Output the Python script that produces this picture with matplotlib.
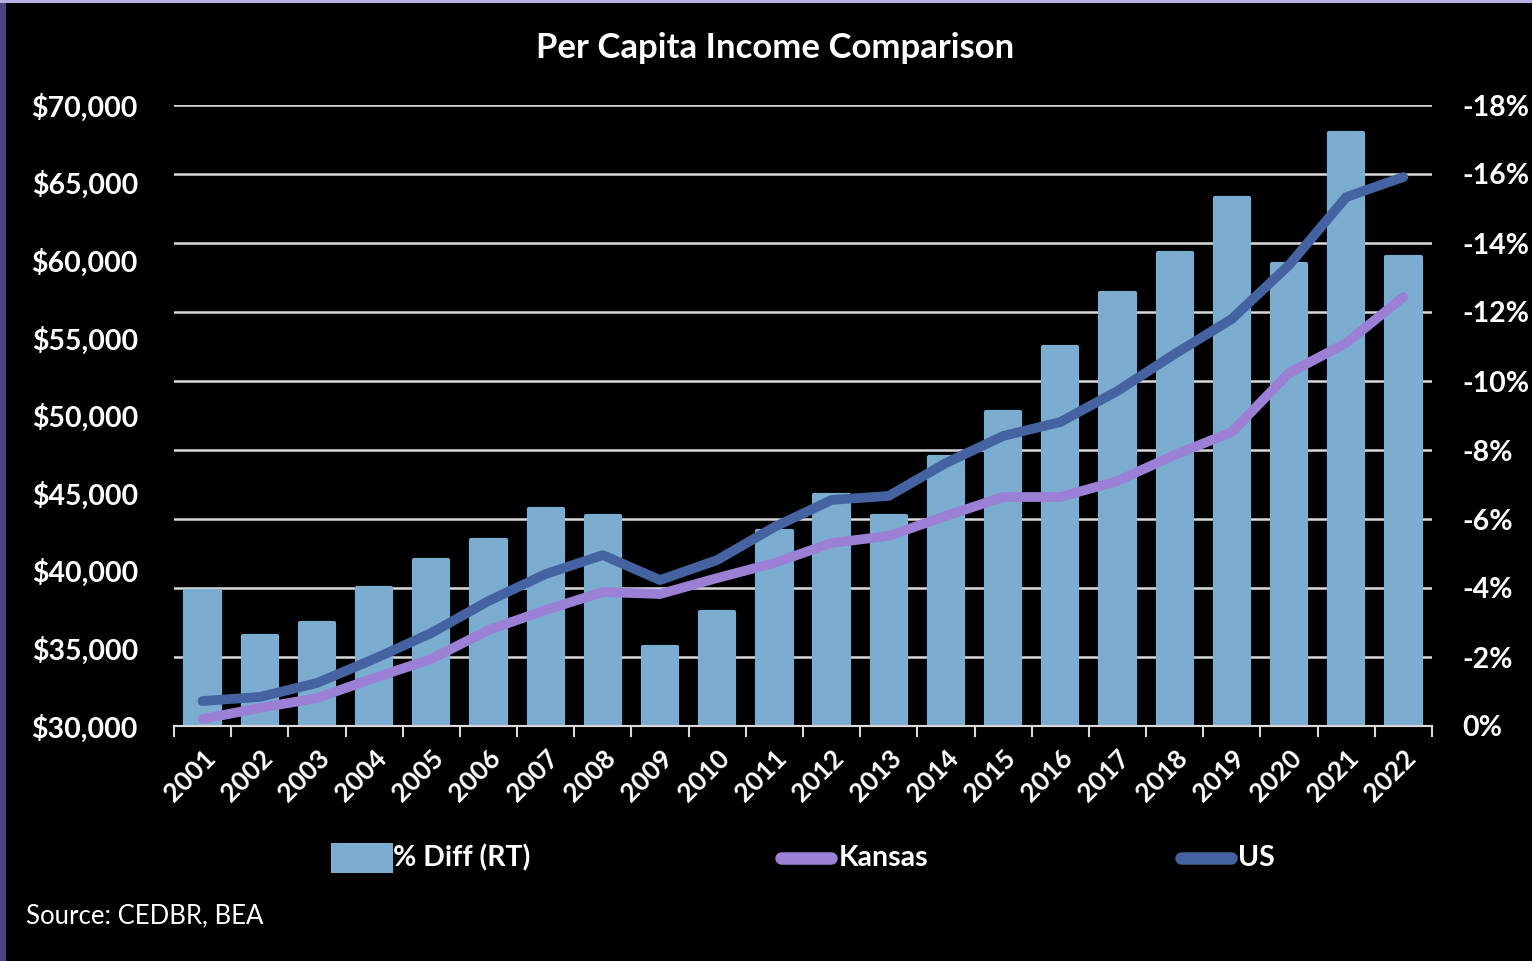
import numpy as np
import matplotlib
matplotlib.use('Agg')
import matplotlib.pyplot as plt
from matplotlib.patches import Rectangle
from matplotlib.lines import Line2D
from matplotlib.ticker import FuncFormatter, MultipleLocator

plt.rcParams['font.family'] = ['Lato', 'DejaVu Sans']

# per capita income, dollars, and Kansas-vs-US gap in percent
years = [str(y) for y in range(2001, 2023)]
us = [31610, 31870, 32770, 34320, 35990, 38050, 39790, 41010, 39400, 40690, 42820,
      44560, 44820, 46940, 48680, 49580, 51580, 53960, 56220, 59690, 64070, 65360]
kansas = [30450, 31160, 31800, 33090, 34320, 36180, 37470, 38630, 38500, 39530, 40500,
          41790, 42240, 43530, 44750, 44750, 45780, 47460, 48940, 52740, 54670, 57630]
pct_diff = [-3.9, -2.6, -3.0, -4.0, -4.8, -5.4, -6.3, -6.1, -2.3, -3.3, -5.65,
            -6.7, -6.1, -7.8, -9.1, -11.0, -12.55, -13.7, -15.3, -13.4, -17.2, -13.6]

bar_col = '#7badd1'
us_col = '#4463a0'
ks_col = '#9b80d6'
txt = 'white'
grid_col = '#d9d9d9'

fig = plt.figure(figsize=(15.32, 9.61), dpi=100, facecolor='black')
ax = fig.add_axes([174/1532, 1-726/961, (1432-174)/1532, (726-105)/961])
ax2 = ax.twinx()

x = np.arange(len(years))

# bars live on the right axis (0% at bottom, -18% at top), slightly rounded corners
bars = ax2.bar(x, pct_diff, width=0.6, color=bar_col, edgecolor=bar_col, linewidth=3, zorder=2)
for b in bars:
    b.set_joinstyle('round')
ax2.set_ylim(0, -18)
ax2.yaxis.set_major_locator(MultipleLocator(2))
ax2.yaxis.set_major_formatter(FuncFormatter(lambda v, p: f'{v:.0f}%'))
ax2.grid(axis='y', color=grid_col, linewidth=1.8, zorder=0)
ax2.set_axisbelow(True)
ax2.set_facecolor('black')

# lines on the left axis drawn above the bars
ax.set_zorder(ax2.get_zorder() + 1)
ax.patch.set_visible(False)
ax.plot(x, kansas, color=ks_col, linewidth=7, solid_capstyle='round', solid_joinstyle='round')
ax.plot(x, us, color=us_col, linewidth=7, solid_capstyle='round', solid_joinstyle='round')
ax.set_ylim(30000, 70000)
ax.yaxis.set_major_locator(MultipleLocator(5000))
ax.yaxis.set_major_formatter(FuncFormatter(lambda v, p: f'${v:,.0f}'))
ax.set_xlim(-0.5, len(years) - 0.5)

ax.set_xticks(x)
ax.set_xticklabels(years, rotation=45, ha='right', rotation_mode='anchor',
                   fontsize=19, fontweight='bold', color=txt)
ax.set_xticks(np.arange(len(years) + 1) - 0.5, minor=True)
ax.tick_params(axis='x', which='major', length=0, pad=14)
ax.tick_params(axis='x', which='minor', length=8, width=1.5, color=grid_col, direction='out')
ax.tick_params(axis='y', length=0, pad=26, labelsize=20.5, labelcolor=txt)
ax2.tick_params(axis='y', length=0, pad=22, labelsize=20.5, labelcolor=txt)
for lab in ax.get_yticklabels():
    lab.set_fontweight('bold')
for lab in ax2.get_yticklabels():
    lab.set_fontweight('bold')

for a in (ax, ax2):
    for s in ['top', 'left', 'right']:
        a.spines[s].set_visible(False)
    a.spines['bottom'].set_color(grid_col)
    a.spines['bottom'].set_linewidth(1.5)

fig.text(775/1532, 1-48/961, 'Per Capita Income Comparison', ha='center', va='center',
         fontsize=25, fontweight='bold', color=txt)

# legend row
ly = 1-858/961
fig.add_artist(Rectangle((331/1532, 1-873/961), 62/1532, 30/961, transform=fig.transFigure,
                         facecolor=bar_col, edgecolor='none'))
fig.text(393/1532, ly, '% Diff (RT)', ha='left', va='center', fontsize=20.5, fontweight='bold', color=txt)
fig.add_artist(Line2D([781/1532, 831/1532], [ly, ly], transform=fig.transFigure, color=ks_col,
                      linewidth=9, solid_capstyle='round'))
fig.text(839/1532, ly, 'Kansas', ha='left', va='center', fontsize=20.5, fontweight='bold', color=txt)
fig.add_artist(Line2D([1181/1532, 1231/1532], [ly, ly], transform=fig.transFigure, color=us_col,
                      linewidth=9, solid_capstyle='round'))
fig.text(1238/1532, ly, 'US', ha='left', va='center', fontsize=20.5, fontweight='bold', color=txt)

fig.text(26/1532, 1-916/961, 'Source: CEDBR, BEA', ha='left', va='center', fontsize=18.5, color=txt)

# thin frame around the chart area
fig.add_artist(Rectangle((0, 0), 6/1532, 1, transform=fig.transFigure, facecolor='#4b4480', edgecolor='none'))
fig.add_artist(Rectangle((0, 1-3/961), 1, 3/961, transform=fig.transFigure, facecolor='#b7b0e0', edgecolor='none'))

fig.savefig('out.png', dpi=100, facecolor='black')
